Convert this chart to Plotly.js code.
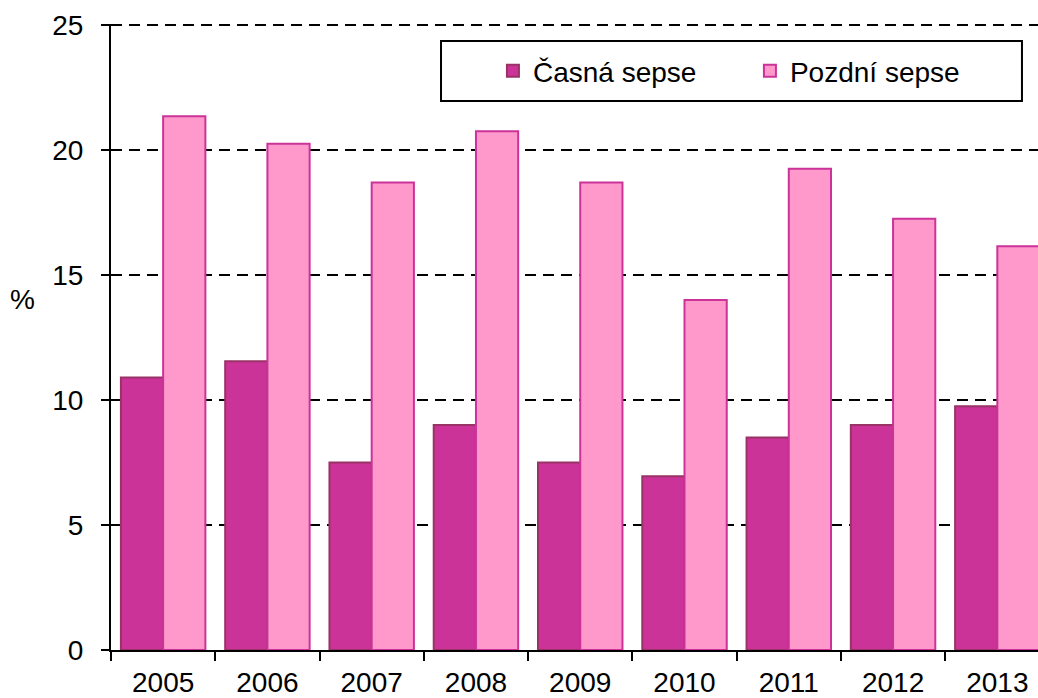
<!DOCTYPE html>
<html>
<head>
<meta charset="utf-8">
<script src="https://cdn.plot.ly/plotly-3.0.1.min.js"></script>
<style>html,body{margin:0;padding:0;background:#fff;}#chart{width:1038px;height:698px;}</style>
</head>
<body>
<div id="chart"></div>
<script>
const years = ["2005","2006","2007","2008","2009","2010","2011","2012","2013"];
const casnaSepse = [10.9, 11.55, 7.5, 9.0, 7.5, 6.95, 8.5, 9.0, 9.75];
const pozdniSepse = [21.35, 20.25, 18.7, 20.75, 18.7, 14.0, 19.25, 17.25, 16.15];

const font = {family: "Arial, 'Liberation Sans', sans-serif", size: 28, color: "#000"};

const data = [
  {type: "bar", name: "Časná sepse", x: years, y: casnaSepse,
   marker: {color: "#CC3399", line: {color: "#993366", width: 2}}},
  {type: "bar", name: "Pozdní sepse", x: years, y: pozdniSepse,
   marker: {color: "#FF99CC", line: {color: "#CC3399", width: 2}}}
];

const layout = {
  width: 1038, height: 698,
  margin: {l: 111, r: 0, t: 24, b: 48, pad: 0, autoexpand: false},
  paper_bgcolor: "#fff", plot_bgcolor: "#fff",
  font: font,
  barmode: "group", bargap: 0.19, bargroupgap: 0,
  showlegend: true,
  legend: {orientation: "h", x: 0.412, y: 0.925, xanchor: "left", yanchor: "middle",
    borderwidth: 0, bgcolor: "rgba(0,0,0,0)", font: font,
    entrywidth: 212, itemwidth: 30, traceorder: "normal"},
  xaxis: {type: "category", range: [-0.5, 8.39], showline: true, linecolor: "#000", linewidth: 2,
    ticks: "outside", tickson: "boundaries", ticklen: 9, tickwidth: 2, tickcolor: "#000",
    ticklabelstandoff: 6,
    showgrid: false, tickfont: font, fixedrange: true, automargin: false},
  yaxis: {range: [0, 25.04], tickvals: [0, 5, 10, 15, 20, 25], showline: true, linecolor: "#000", linewidth: 2,
    ticks: "outside", ticklen: 8, tickwidth: 2, tickcolor: "#000", ticklabelstandoff: 12,
    showgrid: true, gridcolor: "#000", gridwidth: 2, griddash: "11px,7px", zeroline: false,
    tickfont: font, fixedrange: true, automargin: false},
  shapes: [
    {type: "line", xref: "paper", yref: "y", x0: 0, x1: 1, y0: 25, y1: 25,
      line: {color: "#000", width: 2, dash: "11px,7px"}, layer: "below"},
    {type: "rect", xref: "paper", yref: "paper", x0: 0.356, x1: 0.9827, y0: 0.8768, y1: 0.9728,
      line: {color: "#000", width: 2}, fillcolor: "#fff", layer: "above"}],
  annotations: [{text: "%", xref: "paper", yref: "paper", x: -0.095, y: 0.56,
    showarrow: false, font: font, xanchor: "center", yanchor: "middle"}]
};

Plotly.newPlot("chart", data, layout, {displayModeBar: false, staticPlot: true});
</script>
</body>
</html>
